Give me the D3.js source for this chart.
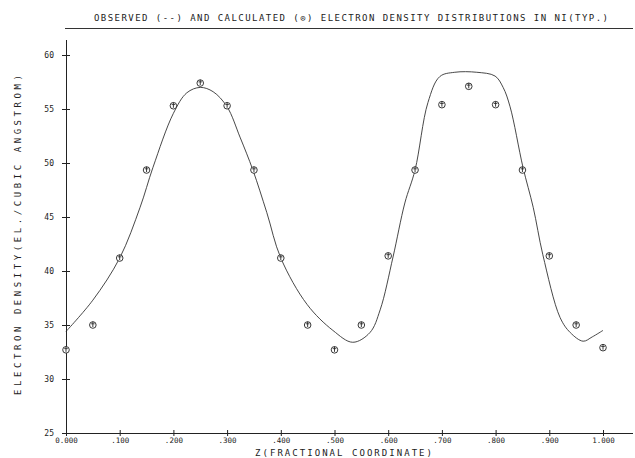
<!DOCTYPE html>
<html>
<head>
<meta charset="utf-8">
<script src="https://cdn.jsdelivr.net/npm/d3@7"></script>
<style>
  body { margin: 0; background: #fff; }
  text { font-family: "DejaVu Sans Mono", monospace; fill: #222; }
</style>
</head>
<body>
<div id="chart"></div>
<script>
// observed curve
var obsZ = [0, 0.05, 0.1, 0.138, 0.162, 0.2, 0.225, 0.25, 0.274, 0.3, 0.324, 0.348, 0.374, 0.4, 0.449, 0.497,
            0.534, 0.566, 0.585, 0.609, 0.631, 0.65, 0.674, 0.696, 0.724, 0.765, 0.799, 0.814, 0.827,
            0.851, 0.87, 0.888, 0.92, 0.939, 0.963, 0.98, 1.0];
var obsVal = [34.4, 37.3, 41.2, 45.9, 49.6, 54.6, 56.5, 57.0, 56.6, 55.2, 52.4, 49.35, 45.4, 41.2, 36.9, 34.5,
              33.4, 34.3, 36.4, 41.3, 46.3, 49.35, 55.6, 58.0, 58.4, 58.4, 58.05, 57.0, 55.2,
              49.6, 45.9, 41.5, 35.7, 34.3, 33.5, 33.9, 34.5];

// calculated points
var calcZ = [0, 0.05, 0.1, 0.15, 0.2, 0.25, 0.3, 0.35, 0.4, 0.45, 0.5,
             0.55, 0.6, 0.65, 0.7, 0.75, 0.8, 0.85, 0.9, 0.95, 1.0];
var calcVal = [32.7, 35.0, 41.2, 49.35, 55.3, 57.4, 55.3, 49.35, 41.2, 35.0, 32.7,
               35.0, 41.4, 49.35, 55.4, 57.1, 55.4, 49.35, 41.4, 35.0, 32.9];

var xTicks = [0, 0.1, 0.2, 0.3, 0.4, 0.5, 0.6, 0.7, 0.8, 0.9, 1.0];
var xTickLabels = ["0.000", ".100", ".200", ".300", ".400", ".500", ".600", ".700", ".800", ".900", "1.000"];
var yTicks = [25, 30, 35, 40, 45, 50, 55, 60];

var titleText = "OBSERVED (--) AND CALCULATED (\u2299) ELECTRON DENSITY DISTRIBUTIONS IN NI(TYP.)";
var xTitle = "Z(FRACTIONAL COORDINATE)";
var yTitle = "ELECTRON DENSITY(EL./CUBIC ANGSTROM)";

var w = 635, h = 458;

var xScale = d3.scaleLinear().domain([0, 1]).range([66, 603]);
var yScale = d3.scaleLinear().domain([25, 60]).range([433, 55]);

var svg = d3.select("#chart").append("svg")
  .attr("width", w)
  .attr("height", h);

// title + rule under it
svg.append("text")
  .attr("x", 94)
  .attr("y", 21)
  .attr("font-size", 9)
  .attr("textLength", 514)
  .attr("lengthAdjust", "spacing")
  .text(titleText);

svg.append("line")
  .attr("x1", 65).attr("x2", 633)
  .attr("y1", 28.5).attr("y2", 28.5)
  .attr("stroke", "#333")
  .attr("stroke-width", 1);

// axes
var xAxis = d3.axisBottom(xScale)
  .tickValues(xTicks)
  .tickFormat(function(d, i) { return xTickLabels[i]; })
  .tickSizeInner(3)
  .tickSizeOuter(0)
  .tickPadding(2);

var gx = svg.append("g")
  .attr("transform", "translate(0," + yScale(25) + ")")
  .call(xAxis);
gx.select(".domain").remove();
gx.append("line")
  .attr("x1", xScale(0)).attr("x2", 633)
  .attr("y1", 0.5).attr("y2", 0.5)
  .attr("stroke", "#222");
gx.selectAll(".tick").append("line")
  .attr("y2", -3).attr("stroke", "#222");
gx.selectAll(".tick text")
  .attr("font-size", 7.5)
  .attr("font-family", "DejaVu Sans Mono, monospace")
  .attr("fill", "#222");
gx.selectAll(".tick line").attr("stroke", "#222");

var yAxis = d3.axisLeft(yScale)
  .tickValues(yTicks)
  .tickSizeInner(4)
  .tickSizeOuter(0)
  .tickPadding(8);

var gy = svg.append("g")
  .attr("transform", "translate(" + xScale(0) + ",0)")
  .call(yAxis);
gy.select(".domain").remove();
gy.append("line")
  .attr("x1", 0.5).attr("x2", 0.5)
  .attr("y1", yScale(25)).attr("y2", 40)
  .attr("stroke", "#222");
gy.selectAll(".tick").append("line")
  .attr("x2", 4).attr("stroke", "#222");
gy.selectAll(".tick text")
  .attr("font-size", 8)
  .attr("font-family", "DejaVu Sans Mono, monospace")
  .attr("fill", "#222");
gy.selectAll(".tick line").attr("stroke", "#222");

// axis titles
svg.append("text")
  .attr("x", 255)
  .attr("y", 456)
  .attr("font-size", 9)
  .attr("textLength", 177)
  .attr("lengthAdjust", "spacing")
  .text(xTitle);

svg.append("text")
  .attr("transform", "translate(21,395) rotate(-90)")
  .attr("font-size", 9)
  .attr("textLength", 320)
  .attr("lengthAdjust", "spacing")
  .text(yTitle);

// observed curve
var obs = obsZ.map(function(z, i) { return { z: z, v: obsVal[i] }; });

var line = d3.line()
  .x(function(d) { return xScale(d.z); })
  .y(function(d) { return yScale(d.v); })
  .curve(d3.curveCatmullRom.alpha(0.5));

svg.append("path")
  .datum(obs)
  .attr("d", line)
  .attr("fill", "none")
  .attr("stroke", "#333")
  .attr("stroke-width", 0.9);

// calculated points
var calc = calcZ.map(function(z, i) { return { z: z, v: calcVal[i] }; });

var pts = svg.selectAll(".pt")
  .data(calc)
  .enter().append("g")
  .attr("class", "pt")
  .attr("transform", function(d) { return "translate(" + xScale(d.z) + "," + yScale(d.v) + ")"; });

pts.append("circle")
  .attr("r", 3.3)
  .attr("fill", "#fff")
  .attr("stroke", "#222")
  .attr("stroke-width", 0.9);

pts.append("line")
  .attr("x1", 0).attr("x2", 0)
  .attr("y1", -3.3).attr("y2", 2)
  .attr("stroke", "#222")
  .attr("stroke-width", 0.9);
pts.append("line")
  .attr("x1", -1.8).attr("x2", 1.8)
  .attr("y1", -1.2).attr("y2", -1.2)
  .attr("stroke", "#222")
  .attr("stroke-width", 0.8);
</script>
</body>
</html>
